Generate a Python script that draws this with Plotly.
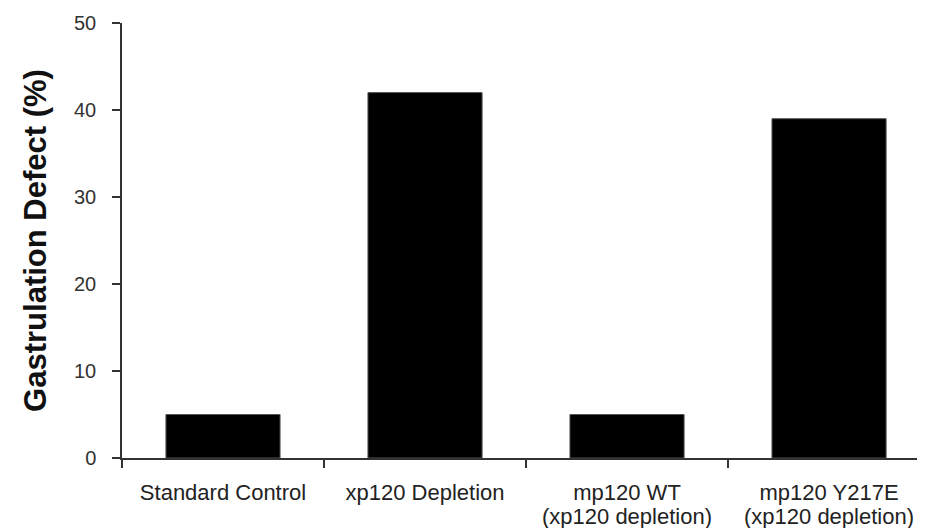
import plotly.graph_objects as go

categories = ["Standard Control", "xp120 Depletion", "mp120 WT", "mp120 Y217E"]
sublabels = ["", "", "(xp120 depletion)", "(xp120 depletion)"]
values = [5, 42, 5, 39]
y_ticks = [0, 10, 20, 30, 40, 50]

fig = go.Figure(go.Bar(x=categories, y=values, marker=dict(color="black", line=dict(color="#555", width=1)), width=0.565))

for cat, sub in zip(categories, sublabels):
    if sub:
        fig.add_annotation(x=cat, xref="x", y=-0.1, yref="paper", yanchor="top", text=sub,
                           showarrow=False, font=dict(size=22, color="#222"))

fig.update_layout(
    width=917, height=520,
    margin=dict(l=114, r=0, t=15, b=70),
    paper_bgcolor="white", plot_bgcolor="white",
    showlegend=False,
    font=dict(family="Liberation Sans, Arial, sans-serif", color="#333", size=16),
)
fig.update_xaxes(
    range=[-0.5, 3.475], showgrid=False, showline=True, linecolor="#333", linewidth=1.5,
    ticks="outside", tickson="boundaries", ticklen=8, tickcolor="#333", tickwidth=1.5,
    ticklabelstandoff=14, tickfont=dict(size=22, color="#222"), automargin=False,
)
fig.update_yaxes(
    range=[0, 50], tickvals=y_ticks, showgrid=False, showline=True, linecolor="#333", linewidth=1.5,
    ticks="outside", ticklen=8, tickcolor="#333", tickwidth=1.5, zeroline=False,
    ticklabelstandoff=12, tickfont=dict(size=20, color="#333"), automargin=False,
    title=dict(text="<b>Gastrulation Defect (%)</b>", font=dict(size=31, color="#111"), standoff=18),
)
fig.write_html("out.html")
